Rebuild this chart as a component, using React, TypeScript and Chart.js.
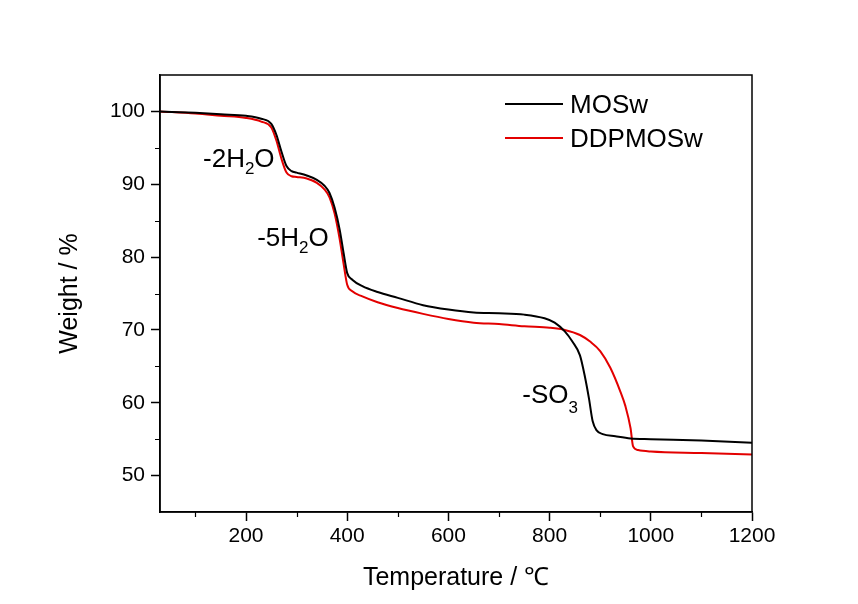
import React, { useEffect, useRef } from "react";
import { Chart, registerables } from "chart.js";

Chart.register(...registerables);

const seriesNames = ["MOSw", "DDPMOSw"];
const seriesColors = ["#000000", "#e30000"];

const tempMOSw = [30, 100, 150, 200, 230, 250, 260, 270, 280, 290, 300, 320, 340, 355, 365, 375, 385, 393, 400, 410, 430, 460, 500, 550, 600, 650, 700, 750, 790, 810, 830, 845, 860, 870, 878, 885, 893, 905, 930, 960, 1000, 1100, 1200];
const weightMOSw = [100, 99.8, 99.6, 99.4, 99.0, 98.3, 96.8, 94.5, 92.5, 91.8, 91.6, 91.2, 90.6, 89.8, 88.8, 86.8, 83.8, 80.5, 77.8, 76.9, 76.0, 75.2, 74.4, 73.4, 72.8, 72.4, 72.3, 72.1, 71.6, 71.0, 69.8, 68.4, 66.5, 63.5, 60.5, 57.5, 56.2, 55.7, 55.4, 55.1, 55.0, 54.8, 54.5];

const tempDDP = [30, 100, 150, 200, 230, 250, 260, 270, 280, 290, 300, 320, 340, 355, 365, 375, 385, 393, 400, 410, 430, 460, 500, 550, 600, 650, 700, 750, 800, 830, 860, 880, 900, 920, 940, 950, 960, 965, 975, 1000, 1100, 1200];
const weightDDP = [100, 99.7, 99.4, 99.1, 98.6, 97.8, 96.0, 93.5, 91.6, 91.1, 91.0, 90.8, 90.2, 89.3, 88.2, 86.0, 82.5, 79.0, 76.2, 75.3, 74.6, 73.8, 73.0, 72.2, 71.5, 71.0, 70.8, 70.5, 70.3, 70.0, 69.3, 68.4, 67.1, 64.8, 61.5, 59.5, 56.5, 54.0, 53.5, 53.3, 53.1, 52.9];

const xTicks = [200, 400, 600, 800, 1000, 1200];
const xMinorTicks = [100, 300, 500, 700, 900, 1100];
const yTicks = [50, 60, 70, 80, 90, 100];
const yMinorTicks = [55, 65, 75, 85, 95];

const labelMain = ["-2H", "-5H", "-SO"];
const labelSub = ["2", "2", "3"];
const labelTail = ["O", "O", ""];
const labelTemp = [115, 222, 746];
const labelWeight = [92.4, 81.5, 59.9];
const labelSubShift = [7, 7, 10];

const FONT = "'Liberation Sans', Arial, sans-serif";

const decorPlugin = {
  id: "decor",
  afterDraw(chart: any) {
    const ctx = chart.ctx;
    const { left, right, top, bottom } = chart.chartArea;
    const xs = chart.scales.x;
    const ys = chart.scales.y;
    ctx.save();
    ctx.strokeStyle = "#000";
    ctx.lineWidth = 1.5;
    ctx.strokeRect(left, top, right - left, bottom - top);
    // minor ticks
    ctx.lineWidth = 1.2;
    ctx.beginPath();
    xMinorTicks.forEach((v) => {
      const px = Math.round(xs.getPixelForValue(v)) + 0.5;
      ctx.moveTo(px, bottom);
      ctx.lineTo(px, bottom + 5);
    });
    yMinorTicks.forEach((v) => {
      const py = Math.round(ys.getPixelForValue(v)) + 0.5;
      ctx.moveTo(left, py);
      ctx.lineTo(left - 5, py);
    });
    ctx.stroke();
    // annotations
    ctx.fillStyle = "#000";
    ctx.textBaseline = "alphabetic";
    ctx.textAlign = "left";
    for (let i = 0; i < labelMain.length; i++) {
      let x = xs.getPixelForValue(labelTemp[i]);
      const y = ys.getPixelForValue(labelWeight[i]);
      ctx.font = `26px ${FONT}`;
      ctx.fillText(labelMain[i], x, y);
      x += ctx.measureText(labelMain[i]).width;
      ctx.font = `17px ${FONT}`;
      ctx.fillText(labelSub[i], x, y + labelSubShift[i]);
      x += ctx.measureText(labelSub[i]).width;
      ctx.font = `26px ${FONT}`;
      ctx.fillText(labelTail[i], x, y);
    }
    // legend
    const lx = 505;
    const ly = [104, 138];
    ctx.textBaseline = "middle";
    ctx.font = `26px ${FONT}`;
    chart.data.datasets.forEach((ds: any, i: number) => {
      ctx.strokeStyle = ds.borderColor;
      ctx.lineWidth = 2;
      ctx.beginPath();
      ctx.moveTo(lx, ly[i]);
      ctx.lineTo(lx + 58, ly[i]);
      ctx.stroke();
      ctx.fillStyle = "#000";
      ctx.fillText(ds.label, lx + 65, ly[i] + 2);
    });
    ctx.restore();
  },
};

export default function App() {
  const ref = useRef<HTMLCanvasElement | null>(null);
  useEffect(() => {
    if (!ref.current) return;
    const chart = new Chart(ref.current, {
      type: "line",
      data: {
        datasets: [
          {
            label: seriesNames[0],
            data: tempMOSw.map((t, i) => ({ x: t, y: weightMOSw[i] })),
            borderColor: seriesColors[0],
            borderWidth: 2,
            pointRadius: 0,
            cubicInterpolationMode: "monotone",
          },
          {
            label: seriesNames[1],
            data: tempDDP.map((t, i) => ({ x: t, y: weightDDP[i] })),
            borderColor: seriesColors[1],
            borderWidth: 2,
            pointRadius: 0,
            cubicInterpolationMode: "monotone",
          },
        ],
      },
      options: {
        responsive: false,
        animation: false,
        layout: { padding: { top: 75, right: 106, left: 0, bottom: 0 } },
        plugins: { legend: { display: false }, tooltip: { enabled: false } },
        scales: {
          x: {
            type: "linear",
            min: 30,
            max: 1200,
            afterFit: (s: any) => {
              s.height = 92;
            },
            afterBuildTicks: (s: any) => {
              s.ticks = xTicks.map((v) => ({ value: v }));
            },
            grid: { display: true, drawOnChartArea: false, drawTicks: true, tickLength: 9, tickColor: "#000", tickWidth: 1.5 },
            border: { display: true, color: "#000", width: 1.5 },
            ticks: { color: "#000", font: { family: FONT, size: 21 }, padding: 3, maxRotation: 0, callback: (v: any) => String(v) },
            title: {
              display: true,
              text: "Temperature / ℃",
              color: "#000",
              font: { family: FONT, size: 25 },
              padding: { top: 0, bottom: 11 },
            },
          },
          y: {
            type: "linear",
            min: 45,
            max: 105,
            afterFit: (s: any) => {
              s.width = 160;
            },
            afterBuildTicks: (s: any) => {
              s.ticks = yTicks.map((v) => ({ value: v }));
            },
            grid: { display: true, drawOnChartArea: false, drawTicks: true, tickLength: 9, tickColor: "#000", tickWidth: 1.5 },
            border: { display: true, color: "#000", width: 1.5 },
            ticks: { color: "#000", font: { family: FONT, size: 21 }, padding: 6, callback: (v: any) => String(v) },
            title: {
              display: true,
              text: "Weight / %",
              color: "#000",
              font: { family: FONT, size: 25 },
              padding: { top: 55, bottom: 0 },
            },
          },
        },
      },
      plugins: [decorPlugin],
    } as any);
    return () => chart.destroy();
  }, []);
  return (
    <div style={{ position: "absolute", left: 0, top: 0, width: 858, height: 604, background: "#fff" }}>
      <canvas ref={ref} width={858} height={604} />
    </div>
  );
}
